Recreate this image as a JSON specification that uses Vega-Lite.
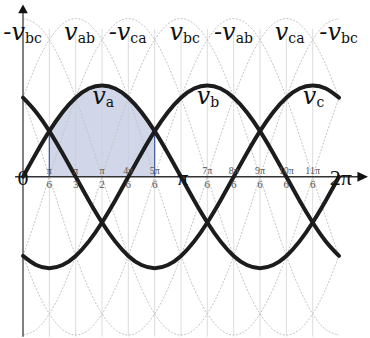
{
  "$schema": "https://vega.github.io/schema/vega-lite/v6.json",
  "width": 370,
  "height": 338,
  "autosize": {"type": "fit", "contains": "padding"},
  "padding": 0,
  "background": "white",
  "config": {"view": {"stroke": null}},
  "datasets": {
    "wave": [
      {"t": 0, "va": 0, "vb": -0.866, "vc": 0.866, "ab": 0.866, "bc": -1.732, "ca": 0.866, "nab": -0.866, "nbc": 1.732, "nca": -0.866},
      {"t": 15, "va": 0.2588, "vb": -0.9659, "vc": 0.7071, "ab": 1.225, "bc": -1.673, "ca": 0.448, "nab": -1.225, "nbc": 1.673, "nca": -0.448},
      {"t": 30, "va": 0.5, "vb": -1, "vc": 0.5, "ab": 1.5, "bc": -1.5, "ca": 0, "nab": -1.5, "nbc": 1.5, "nca": 0},
      {"t": 45, "va": 0.7071, "vb": -0.9659, "vc": 0.2588, "ab": 1.673, "bc": -1.225, "ca": -0.448, "nab": -1.673, "nbc": 1.225, "nca": 0.448},
      {"t": 60, "va": 0.866, "vb": -0.866, "vc": 0, "ab": 1.732, "bc": -0.866, "ca": -0.866, "nab": -1.732, "nbc": 0.866, "nca": 0.866},
      {"t": 75, "va": 0.9659, "vb": -0.7071, "vc": -0.2588, "ab": 1.673, "bc": -0.448, "ca": -1.225, "nab": -1.673, "nbc": 0.448, "nca": 1.225},
      {"t": 90, "va": 1, "vb": -0.5, "vc": -0.5, "ab": 1.5, "bc": 0, "ca": -1.5, "nab": -1.5, "nbc": 0, "nca": 1.5},
      {"t": 105, "va": 0.9659, "vb": -0.2588, "vc": -0.7071, "ab": 1.225, "bc": 0.448, "ca": -1.673, "nab": -1.225, "nbc": -0.448, "nca": 1.673},
      {"t": 120, "va": 0.866, "vb": 0, "vc": -0.866, "ab": 0.866, "bc": 0.866, "ca": -1.732, "nab": -0.866, "nbc": -0.866, "nca": 1.732},
      {"t": 135, "va": 0.7071, "vb": 0.2588, "vc": -0.9659, "ab": 0.448, "bc": 1.225, "ca": -1.673, "nab": -0.448, "nbc": -1.225, "nca": 1.673},
      {"t": 150, "va": 0.5, "vb": 0.5, "vc": -1, "ab": 0, "bc": 1.5, "ca": -1.5, "nab": 0, "nbc": -1.5, "nca": 1.5},
      {"t": 165, "va": 0.2588, "vb": 0.7071, "vc": -0.9659, "ab": -0.448, "bc": 1.673, "ca": -1.225, "nab": 0.448, "nbc": -1.673, "nca": 1.225},
      {"t": 180, "va": 0, "vb": 0.866, "vc": -0.866, "ab": -0.866, "bc": 1.732, "ca": -0.866, "nab": 0.866, "nbc": -1.732, "nca": 0.866},
      {"t": 195, "va": -0.2588, "vb": 0.9659, "vc": -0.7071, "ab": -1.225, "bc": 1.673, "ca": -0.448, "nab": 1.225, "nbc": -1.673, "nca": 0.448},
      {"t": 210, "va": -0.5, "vb": 1, "vc": -0.5, "ab": -1.5, "bc": 1.5, "ca": 0, "nab": 1.5, "nbc": -1.5, "nca": 0},
      {"t": 225, "va": -0.7071, "vb": 0.9659, "vc": -0.2588, "ab": -1.673, "bc": 1.225, "ca": 0.448, "nab": 1.673, "nbc": -1.225, "nca": -0.448},
      {"t": 240, "va": -0.866, "vb": 0.866, "vc": 0, "ab": -1.732, "bc": 0.866, "ca": 0.866, "nab": 1.732, "nbc": -0.866, "nca": -0.866},
      {"t": 255, "va": -0.9659, "vb": 0.7071, "vc": 0.2588, "ab": -1.673, "bc": 0.448, "ca": 1.225, "nab": 1.673, "nbc": -0.448, "nca": -1.225},
      {"t": 270, "va": -1, "vb": 0.5, "vc": 0.5, "ab": -1.5, "bc": 0, "ca": 1.5, "nab": 1.5, "nbc": 0, "nca": -1.5},
      {"t": 285, "va": -0.9659, "vb": 0.2588, "vc": 0.7071, "ab": -1.225, "bc": -0.448, "ca": 1.673, "nab": 1.225, "nbc": 0.448, "nca": -1.673},
      {"t": 300, "va": -0.866, "vb": 0, "vc": 0.866, "ab": -0.866, "bc": -0.866, "ca": 1.732, "nab": 0.866, "nbc": 0.866, "nca": -1.732},
      {"t": 315, "va": -0.7071, "vb": -0.2588, "vc": 0.9659, "ab": -0.448, "bc": -1.225, "ca": 1.673, "nab": 0.448, "nbc": 1.225, "nca": -1.673},
      {"t": 330, "va": -0.5, "vb": -0.5, "vc": 1, "ab": 0, "bc": -1.5, "ca": 1.5, "nab": 0, "nbc": 1.5, "nca": -1.5},
      {"t": 345, "va": -0.2588, "vb": -0.7071, "vc": 0.9659, "ab": 0.448, "bc": -1.673, "ca": 1.225, "nab": -0.448, "nbc": 1.673, "nca": -1.225},
      {"t": 360, "va": 0, "vb": -0.866, "vc": 0.866, "ab": 0.866, "bc": -1.732, "ca": 0.866, "nab": -0.866, "nbc": 1.732, "nca": -0.866}
    ],
    "fractions": [
      {"t": 30, "num": "π", "den": "6"},
      {"t": 60, "num": "π", "den": "3"},
      {"t": 90, "num": "π", "den": "2"},
      {"t": 120, "num": "4π", "den": "6"},
      {"t": 150, "num": "5π", "den": "6"},
      {"t": 210, "num": "7π", "den": "6"},
      {"t": 240, "num": "8π", "den": "6"},
      {"t": 270, "num": "9π", "den": "6"},
      {"t": 300, "num": "10π", "den": "6"},
      {"t": 330, "num": "11π", "den": "6"}
    ],
    "marks": [
      {"t": 0, "label": "0"},
      {"t": 182, "label": "π"},
      {"t": 362, "label": "2π"}
    ],
    "names": [
      {"t": 0, "v": 1.5, "main": "-v", "sub": "bc"},
      {"t": 60, "v": 1.5, "main": "v", "sub": "ab"},
      {"t": 120, "v": 1.5, "main": "-v", "sub": "ca"},
      {"t": 180, "v": 1.5, "main": "v", "sub": "bc"},
      {"t": 240, "v": 1.5, "main": "-v", "sub": "ab"},
      {"t": 300, "v": 1.5, "main": "v", "sub": "ca"},
      {"t": 360, "v": 1.5, "main": "-v", "sub": "bc"},
      {"t": 92, "v": 0.8, "main": "v", "sub": "a"},
      {"t": 211, "v": 0.8, "main": "v", "sub": "b"},
      {"t": 332, "v": 0.8, "main": "v", "sub": "c"}
    ],
    "origin": [{"t": 0, "v": 0}],
    "tipx": [
      {"t": 381, "hi": 0.055, "lo": -0.055},
      {"t": 393, "hi": 0, "lo": 0}
    ],
    "tipy": [
      {"v": 1.79, "l": -5.5, "r": 5.5},
      {"v": 1.885, "l": 0, "r": 0}
    ]
  },
  "layer": [
    {
      "data": {"name": "wave"},
      "transform": [{"filter": "datum.t % 30 === 0 && datum.t > 0 && datum.t < 360"}],
      "mark": {"type": "rule", "color": "#dcdcdc", "strokeWidth": 1},
      "encoding": {
        "x": {"field": "t", "type": "quantitative", "scale": {"domain": [-26.2, 395.3], "nice": false, "zero": false}, "axis": null},
        "y": {"datum": 1.62, "type": "quantitative", "scale": {"domain": [-1.699, 1.935], "nice": false, "zero": false}, "axis": null},
        "y2": {"datum": -1.75}
      }
    },
    {
      "data": {"name": "wave"},
      "transform": [{"filter": "datum.t >= 30 && datum.t <= 150"}],
      "mark": {"type": "area", "interpolate": "natural", "color": "#c6cde2", "opacity": 0.8},
      "encoding": {
        "x": {"field": "t", "type": "quantitative", "scale": {"domain": [-26.2, 395.3], "nice": false, "zero": false}, "axis": null},
        "y": {"field": "va", "type": "quantitative", "scale": {"domain": [-1.699, 1.935], "nice": false, "zero": false}, "axis": null},
        "y2": {"datum": 0}
      }
    },
    {
      "data": {"name": "wave"},
      "transform": [{"fold": ["ab", "bc", "ca", "nab", "nbc", "nca"], "as": ["pair", "v"]}],
      "mark": {"type": "line", "interpolate": "natural", "color": "#c4c4c4", "strokeWidth": 1, "strokeDash": [2, 1.5]},
      "encoding": {
        "x": {"field": "t", "type": "quantitative", "scale": {"domain": [-26.2, 395.3], "nice": false, "zero": false}, "axis": null},
        "y": {"field": "v", "type": "quantitative", "scale": {"domain": [-1.699, 1.935], "nice": false, "zero": false}, "axis": null},
        "detail": {"field": "pair"}
      }
    },
    {
      "data": {"name": "wave"},
      "transform": [{"filter": "datum.t === 30 || datum.t === 150"}],
      "mark": {"type": "rule", "color": "#3d5a9e", "strokeWidth": 1.2},
      "encoding": {
        "x": {"field": "t", "type": "quantitative", "scale": {"domain": [-26.2, 395.3], "nice": false, "zero": false}, "axis": null},
        "y": {"field": "va", "type": "quantitative", "scale": {"domain": [-1.699, 1.935], "nice": false, "zero": false}, "axis": null},
        "y2": {"datum": 0}
      }
    },
    {
      "data": {"name": "origin"},
      "mark": {"type": "rule", "color": "#333333", "strokeWidth": 1.5},
      "encoding": {
        "x": {"datum": -9, "type": "quantitative", "scale": {"domain": [-26.2, 395.3], "nice": false, "zero": false}, "axis": null},
        "x2": {"datum": 384},
        "y": {"field": "v", "type": "quantitative", "scale": {"domain": [-1.699, 1.935], "nice": false, "zero": false}, "axis": null}
      }
    },
    {
      "data": {"name": "origin"},
      "mark": {"type": "rule", "color": "#555555", "strokeWidth": 1.5},
      "encoding": {
        "x": {"field": "t", "type": "quantitative", "scale": {"domain": [-26.2, 395.3], "nice": false, "zero": false}, "axis": null},
        "y": {"datum": -1.75, "type": "quantitative", "scale": {"domain": [-1.699, 1.935], "nice": false, "zero": false}, "axis": null},
        "y2": {"datum": 1.8}
      }
    },
    {
      "data": {"name": "tipx"},
      "mark": {"type": "area", "color": "#111111", "opacity": 1},
      "encoding": {
        "x": {"field": "t", "type": "quantitative", "scale": {"domain": [-26.2, 395.3], "nice": false, "zero": false}, "axis": null},
        "y": {"field": "hi", "type": "quantitative", "scale": {"domain": [-1.699, 1.935], "nice": false, "zero": false}, "axis": null},
        "y2": {"field": "lo"}
      }
    },
    {
      "data": {"name": "tipy"},
      "mark": {"type": "area", "orient": "horizontal", "color": "#111111", "opacity": 1},
      "encoding": {
        "y": {"field": "v", "type": "quantitative", "scale": {"domain": [-1.699, 1.935], "nice": false, "zero": false}, "axis": null},
        "x": {"field": "l", "type": "quantitative", "scale": {"domain": [-26.2, 395.3], "nice": false, "zero": false}, "axis": null},
        "x2": {"field": "r"}
      }
    },
    {
      "data": {"name": "wave"},
      "transform": [{"fold": ["va", "vb", "vc"], "as": ["phase", "v"]}],
      "mark": {"type": "line", "interpolate": "natural", "color": "#1c1c1c", "strokeWidth": 4, "strokeCap": "round"},
      "encoding": {
        "x": {"field": "t", "type": "quantitative", "scale": {"domain": [-26.2, 395.3], "nice": false, "zero": false}, "axis": null},
        "y": {"field": "v", "type": "quantitative", "scale": {"domain": [-1.699, 1.935], "nice": false, "zero": false}, "axis": null},
        "detail": {"field": "phase"}
      }
    },
    {
      "data": {"name": "fractions"},
      "mark": {"type": "text", "font": "serif", "fontSize": 10, "color": "#555555", "baseline": "alphabetic", "dy": -3},
      "encoding": {
        "x": {"field": "t", "type": "quantitative", "scale": {"domain": [-26.2, 395.3], "nice": false, "zero": false}, "axis": null},
        "y": {"datum": 0, "type": "quantitative", "scale": {"domain": [-1.699, 1.935], "nice": false, "zero": false}, "axis": null},
        "text": {"field": "num"}
      }
    },
    {
      "data": {"name": "fractions"},
      "mark": {"type": "text", "font": "serif", "fontSize": 11, "color": "#555555", "baseline": "alphabetic", "dy": 11},
      "encoding": {
        "x": {"field": "t", "type": "quantitative", "scale": {"domain": [-26.2, 395.3], "nice": false, "zero": false}, "axis": null},
        "y": {"datum": 0, "type": "quantitative", "scale": {"domain": [-1.699, 1.935], "nice": false, "zero": false}, "axis": null},
        "text": {"field": "den"}
      }
    },
    {
      "data": {"name": "marks"},
      "mark": {"type": "text", "font": "serif", "fontSize": 22, "color": "#111111", "baseline": "middle", "dy": 1},
      "encoding": {
        "x": {"field": "t", "type": "quantitative", "scale": {"domain": [-26.2, 395.3], "nice": false, "zero": false}, "axis": null},
        "y": {"datum": 0, "type": "quantitative", "scale": {"domain": [-1.699, 1.935], "nice": false, "zero": false}, "axis": null},
        "text": {"field": "label"}
      }
    },
    {
      "data": {"name": "names"},
      "mark": {"type": "text", "font": "DejaVu Serif", "fontStyle": "italic", "fontSize": 24, "color": "#111111", "align": "right", "baseline": "alphabetic", "dx": 2},
      "encoding": {
        "x": {"field": "t", "type": "quantitative", "scale": {"domain": [-26.2, 395.3], "nice": false, "zero": false}, "axis": null},
        "y": {"field": "v", "type": "quantitative", "scale": {"domain": [-1.699, 1.935], "nice": false, "zero": false}, "axis": null},
        "text": {"field": "main"}
      }
    },
    {
      "data": {"name": "names"},
      "mark": {"type": "text", "font": "DejaVu Serif", "fontSize": 14, "color": "#111111", "align": "left", "baseline": "alphabetic", "dx": 2, "dy": 3},
      "encoding": {
        "x": {"field": "t", "type": "quantitative", "scale": {"domain": [-26.2, 395.3], "nice": false, "zero": false}, "axis": null},
        "y": {"field": "v", "type": "quantitative", "scale": {"domain": [-1.699, 1.935], "nice": false, "zero": false}, "axis": null},
        "text": {"field": "sub"}
      }
    }
  ]
}
